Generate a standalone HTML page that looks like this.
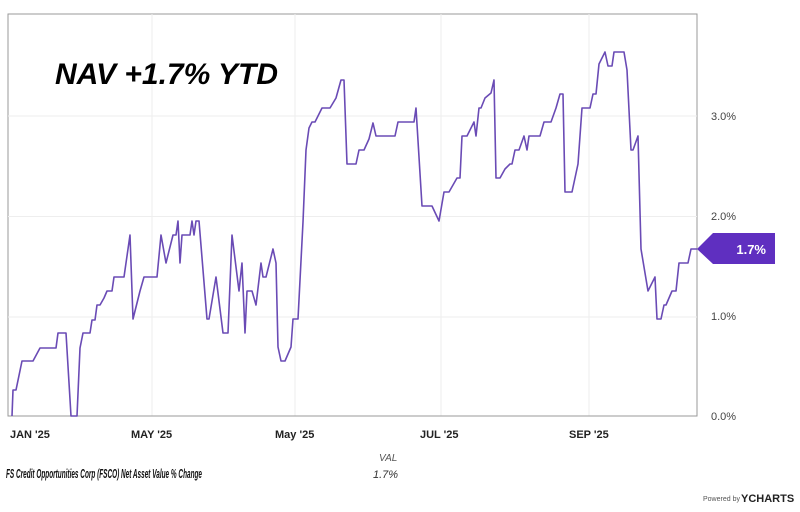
<!DOCTYPE html>
<html><head><meta charset="utf-8"><style>
body{margin:0;background:#fff;width:800px;height:512px;overflow:hidden}
svg{display:block}
text{font-family:"Liberation Sans",sans-serif}
</style></head><body>
<svg width="800" height="512" viewBox="0 0 800 512">
<rect x="8" y="14" width="689" height="402" fill="#fff" stroke="#999" stroke-width="1"/>
<g stroke="#eee" stroke-width="1">
<line x1="8" y1="116" x2="697" y2="116"/><line x1="8" y1="216.5" x2="697" y2="216.5"/><line x1="8" y1="317" x2="697" y2="317"/>
<line x1="152" y1="14" x2="152" y2="416"/><line x1="295" y1="14" x2="295" y2="416"/><line x1="441" y1="14" x2="441" y2="416"/><line x1="589" y1="14" x2="589" y2="416"/>
</g>
<line x1="8" y1="416" x2="697" y2="416" stroke="#999"/>
<polyline fill="none" stroke="#6a4bb5" stroke-width="1.6" stroke-linejoin="round" points="12,416 13,390 16,390 22,361 33,361 40,348 56,348 58,333 66,333 71,416 73,416 77,416 80,348 83,333 90,333 92,320 95,320 97,305 100,305 104,298 107,291 112,291 114,277 124,277 130,235 133,319 140,291 144,277 153,277 157,277 161,235 166,263 173,235 176,235 178,221 180,263 182,235 190,235 192,221 194,235 196,221 199,221 207,319 209,319 216,277 223,333 228,333 232,235 239,291 242,263 245,333 247,291 252,291 256,305 261,263 263,277 266,277 273,249 276,263 278,347 281,361 285,361 291,347 293,319 298,319 303,222 306,150 309,128 312,122 315,122 322,108 330,108 336,98 341,80 344,80 347,164 356,164 359,150 364,150 369,139 373,123 376,136 395,136 398,122 414,122 416,108 422,206 432,206 439,221 444,192 449,192 457,178 460,178 462,136 467,136 474,122 476,136 479,108 481,108 485,98 491,93 494,80 496,178 500,178 505,169 510,164 512,164 515,150 519,150 524,136 527,150 529,136 540,136 544,122 551,122 556,108 560,94 563,94 565,192 572,192 575,178 578,164 582,108 590,108 593,94 596,94 599,64 605,52 608,66 612,66 614,52 624,52 627,70 631,150 633,150 638,136 641,249 648,291 655,277 657,319 661,319 664,305 666,305 672,291 676,291 679,263 688,263 691,249 697,249"/>
<polygon points="697,249 713,233 775,233 775,264 713,264" fill="#5f2fc0"/>
<text x="766" y="254" fill="#fff" font-size="13" font-weight="bold" text-anchor="end">1.7%</text>
<g font-size="11" fill="#444">
<text x="711" y="120">3.0%</text><text x="711" y="220">2.0%</text><text x="711" y="320">1.0%</text><text x="711" y="420">0.0%</text>
</g>
<g font-size="11" font-weight="bold" fill="#222">
<text x="10" y="438">JAN '25</text><text x="131" y="438">MAY '25</text><text x="275" y="438">May '25</text><text x="420" y="438">JUL '25</text><text x="569" y="438">SEP '25</text>
</g>
<text x="55" y="84" font-size="30" font-weight="bold" font-style="italic" fill="#000" textLength="223" lengthAdjust="spacingAndGlyphs">NAV +1.7% YTD</text>
<text x="379" y="461" font-size="10" font-style="italic" fill="#555">VAL</text>
<text x="6" y="478" font-size="12.5" font-weight="bold" font-style="italic" fill="#111" textLength="196" lengthAdjust="spacingAndGlyphs">FS Credit Opportunities Corp (FSCO) Net Asset Value % Change</text>
<text x="373" y="478" font-size="11" font-style="italic" fill="#333">1.7%</text>
<text x="703" y="501" font-size="7" fill="#555">Powered by</text>
<text x="741" y="502" font-size="11" font-weight="bold" fill="#222">YCHARTS</text>
</svg>
</body></html>
